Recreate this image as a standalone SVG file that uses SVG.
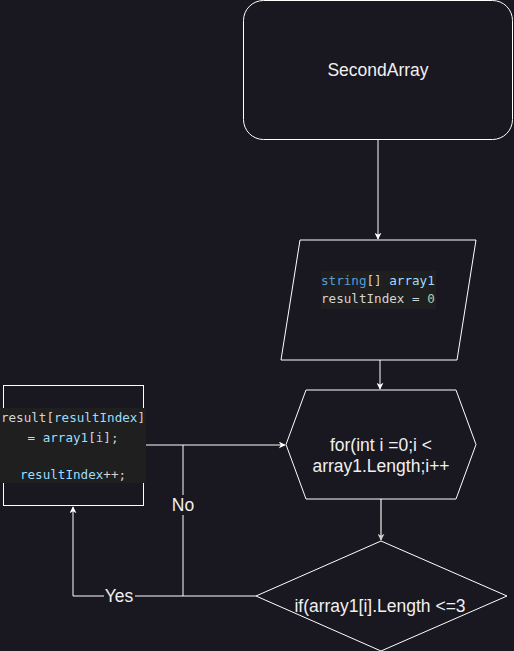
<svg xmlns="http://www.w3.org/2000/svg" width="514" height="651" viewBox="0 0 514 651">
<style>
.shape{fill:none;stroke:#ffffff;stroke-width:1}
.edge{fill:none;stroke:#ffffff;stroke-width:1}
.lbl{font-family:"Liberation Sans",Arial,sans-serif;font-size:17.5px;fill:#f0f0f0;text-anchor:middle}
.code{font-family:"DejaVu Sans Mono","Liberation Mono",monospace;font-size:12.6px;fill:#d4d4d4}
.kw{fill:#569cd6}.var{fill:#9cdcfe}.num{fill:#b5cea8}
</style>
<defs>
<marker id="arr" viewBox="0 0 10 10" refX="9" refY="5" markerWidth="7" markerHeight="7" markerUnits="userSpaceOnUse" orient="auto">
<path d="M0,0 L10,5 L0,10 L3,5 Z" fill="#ffffff"/>
</marker>
<marker id="arrg" viewBox="0 0 10 10" refX="9" refY="5" markerWidth="7" markerHeight="7" markerUnits="userSpaceOnUse" orient="auto">
<path d="M0,0 L10,5 L0,10 L3,5 Z" fill="#d0d0d0"/>
</marker>
</defs>
<rect width="514" height="651" fill="#19171f"/>
<g id="connectors">
<path class="edge" d="M378,140 V239" marker-end="url(#arr)"/>
<path class="edge" d="M380,360 V389" marker-end="url(#arr)"/>
<path d="M381,499 V540" fill="none" stroke="#9a9a9a" stroke-width="2" marker-end="url(#arrg)"/>
<path class="edge" d="M144,445 H285" marker-end="url(#arr)"/>
<path class="edge" d="M256,596 H183 V445"/>
<path class="edge" d="M183,596 H73 V507" marker-end="url(#arr)"/>
<rect x="104" y="586" width="31" height="18" fill="#19171f"/>
<text class="lbl" x="119" y="602">Yes</text>
<rect x="170" y="495" width="27" height="20" fill="#19171f"/>
<text class="lbl" x="183" y="511">No</text>
</g>
<g id="start">
<rect class="shape" x="243.5" y="0.5" width="269" height="139" rx="20"/>
<text class="lbl" x="378" y="76">SecondArray</text>
</g>
<g id="input">
<polygon class="shape" points="300,240 476,240 457,360 281,360"/>
<rect x="321" y="271" width="115" height="38" fill="#1f1f1f"/>
<text class="code" x="321" y="285"><tspan class="kw">string</tspan>[] <tspan class="var">array1</tspan></text>
<text class="code" x="321" y="303">resultIndex = <tspan class="num">0</tspan></text>
</g>
<g id="loop">
<polygon class="shape" points="306,390 456,390 476,444.5 456,499 306,499 286,444.5"/>
<text class="lbl" x="381" y="451">for(int i =0;i &lt;</text>
<text class="lbl" x="381" y="472">array1.Length;i++</text>
</g>
<g id="cond">
<polygon class="shape" points="381,541 507,596 381,651 256,596"/>
<text class="lbl" x="380" y="612">if(array1[i].Length &lt;=3</text>
</g>
<g id="assign">
<rect class="shape" x="3.5" y="385.5" width="140" height="120"/>
<rect x="0" y="408" width="146" height="75" fill="#1f1f1f"/>
<text class="code" x="73" y="422" text-anchor="middle">result[<tspan class="var">resultIndex</tspan>]</text>
<text class="code" x="73" y="442" text-anchor="middle">= <tspan class="var">array1</tspan>[<tspan class="var">i</tspan>];</text>
<text class="code" x="73" y="479" text-anchor="middle"><tspan class="var">resultIndex</tspan>++;</text>
</g>
</svg>
